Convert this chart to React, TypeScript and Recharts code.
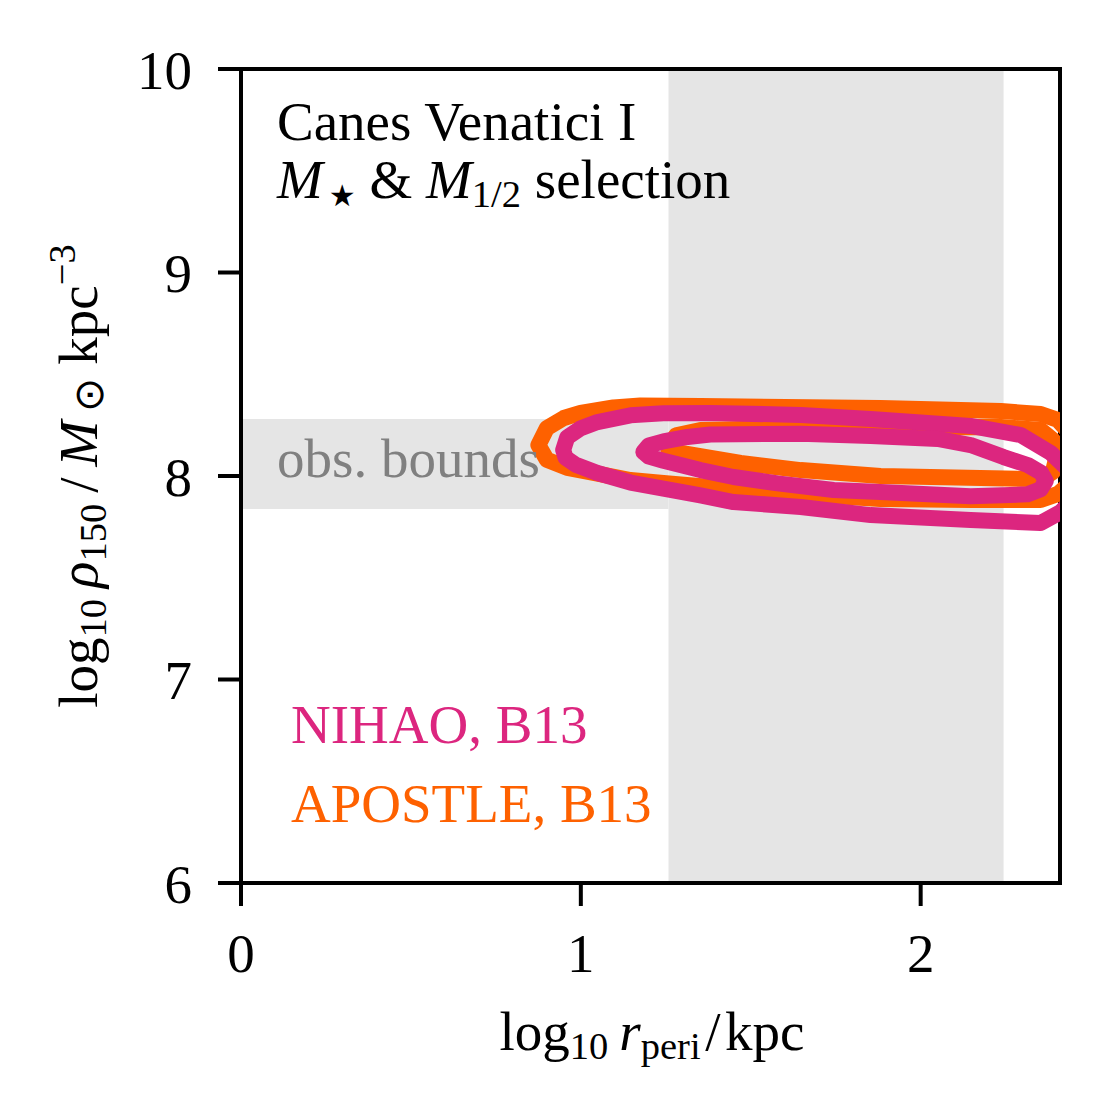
import { ReferenceArea, Scatter, ScatterChart, XAxis, YAxis } from 'recharts';

// axes
const X_TICKS = [0, 1, 2];
const Y_TICKS = [6, 7, 8, 9, 10];
const X_DOMAIN = [0, 2.41];
const Y_DOMAIN = [6, 10];

// observed pericentre / density ranges (grey bands)
const PERI_BOUNDS = [1.258, 2.244];
const RHO_BOUNDS = [7.838, 8.28];

// contours (log r_peri, log rho_150)
const apostleOuter = [
  { x: 0.875, y: 8.152 }, { x: 0.9, y: 8.235 }, { x: 0.95, y: 8.285 }, { x: 0.999, y: 8.31 },
  { x: 1.096, y: 8.337 }, { x: 1.175, y: 8.347 }, { x: 1.352, y: 8.344 }, { x: 1.882, y: 8.334 },
  { x: 2.236, y: 8.319 }, { x: 2.353, y: 8.305 }, { x: 2.404, y: 8.275 }, { x: 2.457, y: 8.177 },
  { x: 2.457, y: 7.99 }, { x: 2.404, y: 7.912 }, { x: 2.353, y: 7.882 }, { x: 2.147, y: 7.882 },
  { x: 1.882, y: 7.887 }, { x: 1.647, y: 7.912 }, { x: 1.381, y: 7.946 }, { x: 1.243, y: 7.966 },
  { x: 1.146, y: 7.98 }, { x: 1.049, y: 8.012 }, { x: 0.96, y: 8.04 }, { x: 0.9, y: 8.08 },
  { x: 0.875, y: 8.152 },
];

const apostleInner = [
  { x: 1.258, y: 8.128 }, { x: 1.28, y: 8.2 }, { x: 1.352, y: 8.226 }, { x: 1.5, y: 8.232 },
  { x: 1.647, y: 8.24 }, { x: 2.236, y: 8.241 }, { x: 2.353, y: 8.226 }, { x: 2.389, y: 8.177 },
  { x: 2.401, y: 8.103 }, { x: 2.389, y: 8.02 }, { x: 2.353, y: 7.98 }, { x: 2.324, y: 7.985 },
  { x: 1.882, y: 8.0 }, { x: 1.647, y: 8.029 }, { x: 1.47, y: 8.064 }, { x: 1.352, y: 8.098 },
  { x: 1.278, y: 8.118 }, { x: 1.258, y: 8.128 },
];

const nihaoOuter = [
  { x: 0.948, y: 8.128 }, { x: 0.96, y: 8.19 }, { x: 1.0, y: 8.235 }, { x: 1.049, y: 8.265 },
  { x: 1.146, y: 8.298 }, { x: 1.243, y: 8.308 }, { x: 1.381, y: 8.31 }, { x: 1.647, y: 8.3 },
  { x: 1.853, y: 8.28 }, { x: 2.147, y: 8.246 }, { x: 2.295, y: 8.201 }, { x: 2.383, y: 8.113 },
  { x: 2.436, y: 8.029 }, { x: 2.448, y: 7.882 }, { x: 2.412, y: 7.823 }, { x: 2.353, y: 7.769 },
  { x: 2.147, y: 7.784 }, { x: 1.853, y: 7.808 }, { x: 1.647, y: 7.848 }, { x: 1.449, y: 7.872 },
  { x: 1.352, y: 7.905 }, { x: 1.243, y: 7.938 }, { x: 1.146, y: 7.968 }, { x: 1.049, y: 8.015 },
  { x: 0.985, y: 8.055 }, { x: 0.955, y: 8.09 }, { x: 0.948, y: 8.128 },
];

const nihaoInner = [
  { x: 1.184, y: 8.118 }, { x: 1.2, y: 8.15 }, { x: 1.243, y: 8.17 }, { x: 1.314, y: 8.192 },
  { x: 1.381, y: 8.204 }, { x: 1.647, y: 8.208 }, { x: 1.853, y: 8.196 }, { x: 2.05, y: 8.182 },
  { x: 2.147, y: 8.152 }, { x: 2.244, y: 8.093 }, { x: 2.315, y: 8.054 }, { x: 2.355, y: 8.015 },
  { x: 2.368, y: 7.975 }, { x: 2.353, y: 7.935 }, { x: 2.315, y: 7.91 }, { x: 2.147, y: 7.9 },
  { x: 1.882, y: 7.921 }, { x: 1.744, y: 7.931 }, { x: 1.579, y: 7.964 }, { x: 1.449, y: 7.995 },
  { x: 1.352, y: 8.029 }, { x: 1.243, y: 8.075 }, { x: 1.2, y: 8.095 }, { x: 1.184, y: 8.118 },
];

const ORANGE = '#FE6100';
const PINK = '#DC267F';
const BAND = '#e5e5e5';
const FONT = "'Liberation Serif', 'Times New Roman', serif";
const FS = 55;

const noDot = () => <g />;

const contourLine = (color: string) => ({
  stroke: color,
  strokeWidth: 16,
  strokeLinejoin: 'round' as const,
  strokeLinecap: 'round' as const,
});

const Sub = ({ children }: { children: string }) => (
  <>
    <tspan dy={9} fontSize={FS * 0.7} fontStyle="normal">{children}</tspan>
    <tspan dy={-9}>{'\u2009'}</tspan>
  </>
);

const App = () => {
  return (
    <div style={{ position: 'absolute', left: 0, top: 0, width: 1111, height: 1118, background: '#fff' }}>
      <ScatterChart width={1111} height={1118} margin={{ top: 69, right: 51, bottom: 0, left: 0 }}>
        <XAxis
          type="number"
          dataKey="x"
          domain={X_DOMAIN}
          ticks={X_TICKS}
          allowDataOverflow
          height={235}
          tickSize={23}
          tickMargin={27}
          axisLine={{ stroke: '#000', strokeWidth: 4 }}
          tickLine={{ stroke: '#000', strokeWidth: 4 }}
          tick={{ fill: '#000', fontSize: FS, fontFamily: FONT }}
        />
        <YAxis
          type="number"
          dataKey="y"
          domain={Y_DOMAIN}
          ticks={Y_TICKS}
          interval={0}
          allowDataOverflow
          width={241}
          tickSize={23}
          tickMargin={26}
          axisLine={{ stroke: '#000', strokeWidth: 4 }}
          tickLine={{ stroke: '#000', strokeWidth: 4 }}
          tick={{ fill: '#000', fontSize: FS, fontFamily: FONT }}
        />
        <ReferenceArea x1={PERI_BOUNDS[0]} x2={PERI_BOUNDS[1]} y1={Y_DOMAIN[0]} y2={Y_DOMAIN[1]} fill={BAND} fillOpacity={1} stroke="none" />
        <ReferenceArea x1={X_DOMAIN[0]} x2={PERI_BOUNDS[0]} y1={RHO_BOUNDS[0]} y2={RHO_BOUNDS[1]} fill={BAND} fillOpacity={1} stroke="none" />
        <Scatter data={apostleOuter} line={contourLine(ORANGE)} shape={noDot} fill={ORANGE} isAnimationActive={false} />
        <Scatter data={apostleInner} line={contourLine(ORANGE)} shape={noDot} fill={ORANGE} isAnimationActive={false} />
        <Scatter data={nihaoOuter} line={contourLine(PINK)} shape={noDot} fill={PINK} isAnimationActive={false} />
        <Scatter data={nihaoInner} line={contourLine(PINK)} shape={noDot} fill={PINK} isAnimationActive={false} />
        <ReferenceArea x1={X_DOMAIN[0]} x2={X_DOMAIN[1]} y1={Y_DOMAIN[0]} y2={Y_DOMAIN[1]} fill="none" stroke="#000" strokeWidth={4} ifOverflow="visible" />
      </ScatterChart>

      <svg width={1111} height={1118} style={{ position: 'absolute', left: 0, top: 0, pointerEvents: 'none' }} fontFamily={FONT} fontSize={FS}>
        <text x={277} y={140} fill="#000">Canes Venatici I</text>
        <text x={277} y={198} fill="#000">
          <tspan fontStyle="italic">M</tspan>
          <tspan dy={8} fontSize={30} fontFamily="'DejaVu Sans', sans-serif">{'\u2009\u2605'}</tspan>
          <tspan dy={-8}>{' & '}</tspan>
          <tspan fontStyle="italic">M</tspan>
          <tspan dy={9} fontSize={FS * 0.7}>1/2</tspan>
          <tspan dy={-9}>{' selection'}</tspan>
        </text>
        <text x={277} y={477} fill="#808080">obs. bounds</text>
        <text x={291} y={743} fill={PINK}>NIHAO, B13</text>
        <text x={291} y={822} fill={ORANGE}>APOSTLE, B13</text>

        <text x={652} y={1050} textAnchor="middle" fill="#000">
          log
          <Sub>10</Sub>
          <tspan fontStyle="italic">r</tspan>
          <tspan dy={9} fontSize={FS * 0.7}>peri</tspan>
          <tspan dy={-9}>{'\u200a/\u200akpc'}</tspan>
        </text>

        <text x={0} y={0} transform="translate(97 476) rotate(-90)" textAnchor="middle" fill="#000">
          log
          <Sub>10</Sub>
          <tspan fontStyle="italic">{'\u03c1'}</tspan>
          <tspan dy={9} fontSize={FS * 0.7}>150</tspan>
          <tspan dy={-9}>{'\u2009/\u2009'}</tspan>
          <tspan fontStyle="italic">M</tspan>
          <tspan dy={6} fontSize={FS * 0.75}>{'\u2009\u2299'}</tspan>
          <tspan dy={-6}>{' kpc'}</tspan>
          <tspan dy={-22} fontSize={FS * 0.7}>{'\u22123'}</tspan>
        </text>
      </svg>
    </div>
  );
};

export default App;
